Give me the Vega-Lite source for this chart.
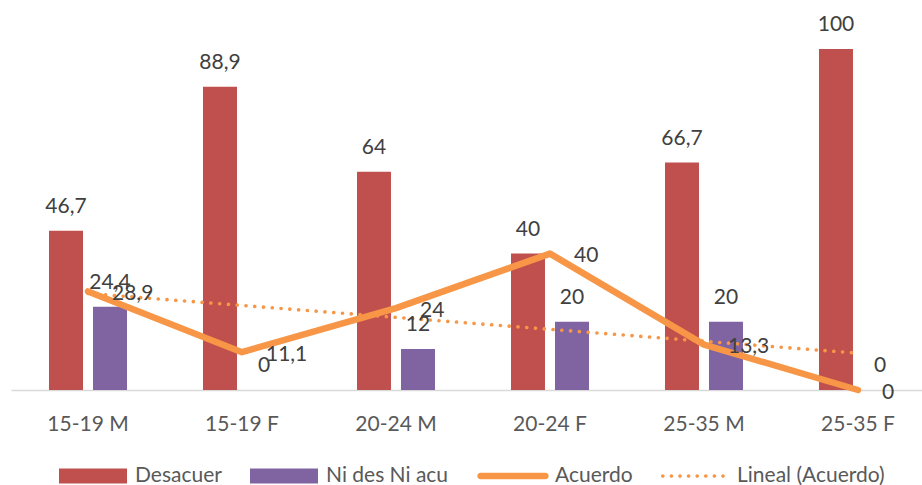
{
  "$schema": "https://vega.github.io/schema/vega-lite/v6.json",
  "width": 911,
  "height": 341,
  "autosize": {"type": "none"},
  "padding": {"left": 11, "top": 49, "right": 0, "bottom": 95},
  "config": {
    "view": {"stroke": null},
    "font": "Lato",
    "locale": {"number": {"decimal": ",", "thousands": ".", "grouping": [3], "currency": ["", " €"]}}
  },
  "data": {
    "values": [
      {"grupo": "15-19 M", "serie": "Desacuer", "valor": 46.7},
      {"grupo": "15-19 F", "serie": "Desacuer", "valor": 88.9},
      {"grupo": "20-24 M", "serie": "Desacuer", "valor": 64},
      {"grupo": "20-24 F", "serie": "Desacuer", "valor": 40},
      {"grupo": "25-35 M", "serie": "Desacuer", "valor": 66.7},
      {"grupo": "25-35 F", "serie": "Desacuer", "valor": 100},
      {"grupo": "15-19 M", "serie": "Ni des Ni acu", "valor": 24.4},
      {"grupo": "15-19 F", "serie": "Ni des Ni acu", "valor": 0},
      {"grupo": "20-24 M", "serie": "Ni des Ni acu", "valor": 12},
      {"grupo": "20-24 F", "serie": "Ni des Ni acu", "valor": 20},
      {"grupo": "25-35 M", "serie": "Ni des Ni acu", "valor": 20},
      {"grupo": "25-35 F", "serie": "Ni des Ni acu", "valor": 0},
      {"grupo": "15-19 M", "serie": "Acuerdo", "valor": 28.9},
      {"grupo": "15-19 F", "serie": "Acuerdo", "valor": 11.1},
      {"grupo": "20-24 M", "serie": "Acuerdo", "valor": 24},
      {"grupo": "20-24 F", "serie": "Acuerdo", "valor": 40},
      {"grupo": "25-35 M", "serie": "Acuerdo", "valor": 13.3},
      {"grupo": "25-35 F", "serie": "Acuerdo", "valor": 0},
      {"grupo": "15-19 M", "serie": "Lineal (Acuerdo)", "valor": 28.3},
      {"grupo": "15-19 F", "serie": "Lineal (Acuerdo)", "valor": 24.8},
      {"grupo": "20-24 M", "serie": "Lineal (Acuerdo)", "valor": 21.3},
      {"grupo": "20-24 F", "serie": "Lineal (Acuerdo)", "valor": 17.8},
      {"grupo": "25-35 M", "serie": "Lineal (Acuerdo)", "valor": 14.3},
      {"grupo": "25-35 F", "serie": "Lineal (Acuerdo)", "valor": 10.8}
    ]
  },
  "encoding": {
    "x": {
      "field": "grupo",
      "type": "nominal",
      "sort": null,
      "scale": {
        "domain": ["15-19 M", "15-19 F", "20-24 M", "20-24 F", "25-35 M", "25-35 F"],
        "paddingInner": 0.4935,
        "paddingOuter": 0.2046,
        "align": 0.603
      },
      "axis": {
        "title": null,
        "ticks": false,
        "grid": false,
        "domainColor": "#D9D9D9",
        "domainWidth": 1.3,
        "labelAngle": 0,
        "labelFont": "Lato",
        "labelFontSize": 21,
        "labelColor": "#595959",
        "labelPadding": 23
      }
    },
    "y": {
      "field": "valor",
      "type": "quantitative",
      "scale": {"domain": [0, 100], "nice": false},
      "axis": null
    },
    "color": {
      "field": "serie",
      "type": "nominal",
      "scale": {
        "domain": ["Desacuer", "Ni des Ni acu", "Acuerdo", "Lineal (Acuerdo)"],
        "range": ["#C0504D", "#8064A2", "#F79646", "#F79646"]
      },
      "legend": {
        "title": null,
        "orient": "none",
        "legendX": 48,
        "legendY": 393,
        "direction": "horizontal",
        "symbolSize": 4624,
        "symbolStrokeWidth": 0,
        "labelFont": "Lato",
        "labelFontSize": 21,
        "labelColor": "#595959",
        "labelOffset": 8,
        "columnPadding": 28,
        "encode": {
          "symbols": {
            "update": {
              "shape": {"signal": "datum.value === 'Acuerdo' ? 'M-0.955,-0.0956H0.955A0.0956,0.0956 0 0 1 0.955,0.0956H-0.955A0.0956,0.0956 0 0 1 -0.955,-0.0956Z' : datum.value === 'Lineal (Acuerdo)' ? 'M-1,0A0.053,0.053 0 1 0 -0.894,0A0.053,0.053 0 1 0 -1,0ZM-0.747,0A0.053,0.053 0 1 0 -0.641,0A0.053,0.053 0 1 0 -0.747,0ZM-0.494,0A0.053,0.053 0 1 0 -0.388,0A0.053,0.053 0 1 0 -0.494,0ZM-0.241,0A0.053,0.053 0 1 0 -0.135,0A0.053,0.053 0 1 0 -0.241,0ZM0.012,0A0.053,0.053 0 1 0 0.118,0A0.053,0.053 0 1 0 0.012,0ZM0.265,0A0.053,0.053 0 1 0 0.371,0A0.053,0.053 0 1 0 0.265,0ZM0.518,0A0.053,0.053 0 1 0 0.624,0A0.053,0.053 0 1 0 0.518,0ZM0.771,0A0.053,0.053 0 1 0 0.877,0A0.053,0.053 0 1 0 0.771,0Z' : 'M-1,-0.22H1V0.22H-1Z'"},
              "fill": {"signal": "datum.value === 'Desacuer' ? '#C0504D' : datum.value === 'Ni des Ni acu' ? '#8064A2' : '#F79646'"},
              "stroke": {"value": "transparent"},
              "strokeWidth": {"value": 0},
              "opacity": {"value": 1}
            }
          }
        }
      }
    }
  },
  "layer": [
    {
      "transform": [{"filter": "datum.serie === 'Desacuer' || datum.serie === 'Ni des Ni acu'"}],
      "mark": {"type": "bar"},
      "encoding": {
        "xOffset": {
          "field": "serie",
          "type": "nominal",
          "scale": {"domain": ["Desacuer", "Ni des Ni acu"], "paddingInner": 0.2273, "paddingOuter": 0}
        }
      }
    },
    {
      "transform": [{"filter": "datum.serie === 'Acuerdo'"}],
      "mark": {"type": "line", "strokeWidth": 6.5, "strokeCap": "round", "strokeJoin": "round"},
      "encoding": {}
    },
    {
      "transform": [{"filter": "datum.serie === 'Lineal (Acuerdo)'"}],
      "mark": {"type": "line", "strokeWidth": 3.6, "strokeCap": "round", "strokeDash": [0.1, 8.7]},
      "encoding": {}
    },
    {
      "transform": [{"filter": "datum.serie === 'Desacuer' || datum.serie === 'Ni des Ni acu'"}],
      "mark": {"type": "text", "baseline": "alphabetic", "dy": -18, "font": "Lato", "fontSize": 21},
      "encoding": {
        "xOffset": {
          "field": "serie",
          "type": "nominal",
          "scale": {"domain": ["Desacuer", "Ni des Ni acu"], "paddingInner": 0.2273, "paddingOuter": 0}
        },
        "text": {"field": "valor", "type": "quantitative", "format": "~g"},
        "color": {"value": "#404040"}
      }
    },
    {
      "transform": [{"filter": "datum.serie === 'Acuerdo'"}],
      "mark": {"type": "text", "align": "left", "baseline": "alphabetic", "dx": 24, "dy": 8.5, "font": "Lato", "fontSize": 21},
      "encoding": {
        "text": {"field": "valor", "type": "quantitative", "format": "~g"},
        "color": {"value": "#404040"}
      }
    }
  ]
}
